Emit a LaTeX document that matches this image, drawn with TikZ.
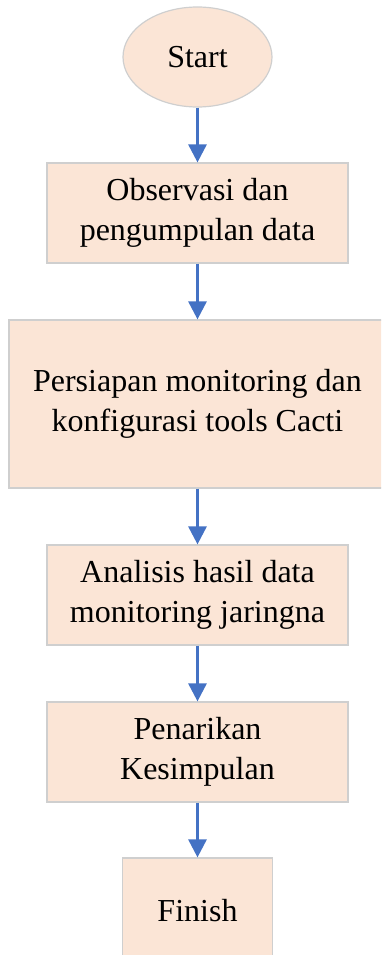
\documentclass[tikz,border=0pt]{standalone}
\usepackage{fontspec}
\setmainfont{Liberation Serif}
\usetikzlibrary{shapes.geometric,arrows.meta}
\definecolor{boxfill}{HTML}{FBE5D6}
\definecolor{boxline}{HTML}{CFCFCF}
\definecolor{flowblue}{HTML}{4472C4}
\tikzset{
  x=1pt, y=1pt,
  stepbox/.style={draw=boxline, line width=1.2pt, fill=boxfill, align=center,
    inner sep=0pt, font=\fontsize{32}{40}\selectfont},
  terminal/.style={ellipse, draw=boxline, line width=1.2pt, fill=boxfill,
    inner sep=0pt, font=\fontsize{32}{40}\selectfont},
  flow/.style={draw=flowblue, line width=2.8pt,
    -{Triangle[length=18pt,width=18pt]}, shorten >=0pt}
}
\begin{document}
\begin{tikzpicture}
\useasboundingbox (0,0) rectangle (381,-955);
\begin{scope}
\clip (0,0) rectangle (381,-955);
\node[terminal, minimum width=149pt, minimum height=100pt] (start) at (197.5,-57) {Start};
\node[stepbox, minimum width=301pt, minimum height=100pt] (obs) at (197.5,-213)
  {Observasi dan\\pengumpulan data};
\node[stepbox, minimum width=377pt, minimum height=168pt] (prep) at (197.5,-404)
  {Persiapan monitoring dan\\konfigurasi tools Cacti};
\node[stepbox, minimum width=301pt, minimum height=100pt] (anal) at (197.5,-595)
  {Analisis hasil data\\monitoring jaringna};
\node[stepbox, minimum width=301pt, minimum height=100pt] (concl) at (197.5,-752)
  {Penarikan\\Kesimpulan};
\node[stepbox, minimum width=150pt, minimum height=106pt] (finish) at (197.5,-911)
  {Finish};
\end{scope}
\draw[flow] (start) -- (obs);
\draw[flow] (obs) -- (prep);
\draw[flow] (prep) -- (anal);
\draw[flow] (anal) -- (concl);
\draw[flow] (concl) -- (finish);
\end{tikzpicture}
\end{document}
